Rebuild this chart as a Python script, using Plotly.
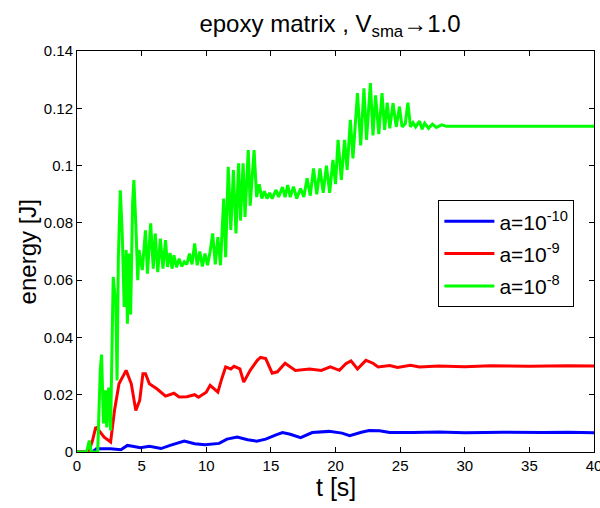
import plotly.graph_objects as go

# ---- data ----
t_blue = [0, 1.2, 1.5, 2.6, 3.4, 3.9, 4.3, 4.9, 5.6, 6.5, 7.2, 8.3, 9.1, 9.9, 11.0, 11.6,
          12.4, 13.2, 13.9, 14.6, 15.4, 15.9, 16.5, 17.3, 18.2, 19.5, 20.5, 21.1, 22.0,
          22.6, 23.4, 24.2, 26, 28, 30, 33, 36, 38, 40]
e_blue = [0, 0, 0.0011, 0.0011, 0.0008, 0.0023, 0.002, 0.0015, 0.002, 0.0012, 0.0023,
          0.0038, 0.0029, 0.0025, 0.003, 0.0045, 0.0052, 0.0043, 0.0038, 0.0045, 0.006,
          0.0068, 0.0062, 0.005, 0.0068, 0.0072, 0.0066, 0.0057, 0.0069, 0.0075, 0.0074,
          0.0068, 0.0068, 0.0070, 0.0067, 0.0069, 0.0068, 0.0069, 0.0067]

t_red = [0, 0.9, 1.2, 1.45, 1.7, 2.1, 2.6, 2.9, 3.25, 3.8, 4.2, 4.55, 4.85, 5.1, 5.3, 5.6,
         6.2, 6.85, 7.5, 7.9, 8.5, 9.1, 9.4, 10.0, 10.3, 10.9, 11.2, 11.5, 11.9, 12.15,
         12.6, 12.9, 13.4, 13.95, 14.2, 14.6, 15.1, 15.5, 16.1, 16.9, 18.0, 18.9, 19.6,
         20.3, 20.8, 21.2, 21.7, 22.35, 22.9, 23.3, 24.2, 24.8, 25.8, 26.5, 28, 30, 32,
         35, 38, 40]
e_red = [0, 0, 0.004, 0.0087, 0.0075, 0.0052, 0.0035, 0.0145, 0.0238, 0.0285, 0.0238,
         0.0145, 0.018, 0.0273, 0.0273, 0.0238, 0.022, 0.0195, 0.0205, 0.0192, 0.0193,
         0.02, 0.0191, 0.0209, 0.0233, 0.0209, 0.0256, 0.0297, 0.029, 0.0299, 0.029,
         0.0244, 0.0285, 0.032, 0.033, 0.0326, 0.0275, 0.028, 0.031, 0.0285, 0.029,
         0.0285, 0.0297, 0.0285, 0.0308, 0.0318, 0.029, 0.032, 0.031, 0.0297, 0.0302,
         0.0295, 0.0303, 0.0297, 0.03, 0.0298, 0.0301, 0.0299, 0.0301, 0.0300]

t_green = [0, 0.7, 0.8, 0.95, 1.1, 1.6, 1.8, 1.9, 2.05, 2.2, 2.3, 2.45, 2.6, 2.75, 2.8,
           3.0, 3.1, 3.2, 3.35, 3.5, 3.65, 3.8, 3.9, 4.0, 4.15, 4.3, 4.4, 4.55, 4.7,
           4.8, 5.05, 5.3, 5.45, 5.7, 5.9, 6.05, 6.25, 6.45, 6.65, 6.85, 7.0, 7.2, 7.35,
           7.5, 7.7, 7.9, 8.1, 8.3, 8.5, 8.7, 8.9, 9.1, 9.3, 9.5, 9.7, 9.9, 10.1, 10.3,
           10.5, 10.7, 10.9, 11.1, 11.35, 11.5, 11.7, 11.9, 12.1, 12.3, 12.5, 12.65,
           12.85, 13.0, 13.25, 13.4, 13.7, 13.9, 14.1, 14.3, 14.5, 14.7, 14.9, 15.1,
           15.4, 15.6, 15.9, 16.1, 16.3, 16.5, 16.75, 17.0, 17.3, 17.55, 17.8, 18.05,
           18.3, 18.55, 18.8, 19.05, 19.3, 19.55, 19.8, 20.0, 20.2, 20.45, 20.7, 20.9,
           21.15, 21.35, 21.7, 21.95, 22.2, 22.4, 22.7, 22.9, 23.1, 23.35, 23.6, 23.8,
           24.0, 24.2, 24.45, 24.7, 24.95, 25.15, 25.4, 25.6, 25.8, 26.0, 26.2, 26.5,
           26.7, 26.9, 27.2, 27.5, 27.8, 28.2, 28.6, 40]
e_green = [0, 0, 0.001, 0.004, 0.0, 0.0, 0.0285, 0.034, 0.01, 0.0215, 0.0086, 0.0225,
           0.0075, 0.0448, 0.0611, 0.0518, 0.025, 0.068, 0.0914, 0.0763, 0.0506, 0.0705,
           0.0448, 0.0693, 0.048, 0.0868, 0.0949, 0.0798, 0.06, 0.0705, 0.0635, 0.0774,
           0.0623, 0.0798, 0.064, 0.0763, 0.0628, 0.0745, 0.064, 0.074, 0.0646, 0.0695,
           0.064, 0.0687, 0.0645, 0.0675, 0.0648, 0.0664, 0.0655, 0.0693, 0.0655, 0.0728,
           0.0652, 0.07, 0.0648, 0.0693, 0.0652, 0.07, 0.0763, 0.0655, 0.075, 0.0652,
           0.0885, 0.068, 0.0996, 0.0775, 0.0984, 0.0763, 0.1008, 0.0808, 0.1008, 0.0821,
           0.1054, 0.086, 0.1054, 0.089, 0.0935, 0.0885, 0.091, 0.0885, 0.0905, 0.0885,
           0.0915, 0.089, 0.0925, 0.089, 0.0932, 0.089, 0.0926, 0.0885, 0.092, 0.089,
           0.0956, 0.0895, 0.099, 0.09, 0.099, 0.0905, 0.1, 0.0905, 0.102, 0.0935, 0.109,
           0.095, 0.109, 0.0985, 0.116, 0.1025, 0.1253, 0.107, 0.127, 0.109, 0.1288,
           0.1105, 0.1245, 0.111, 0.1253, 0.1125, 0.122, 0.113, 0.1218, 0.1135, 0.1206,
           0.1135, 0.1146, 0.122, 0.1135, 0.115, 0.1135, 0.1155, 0.1127, 0.1148, 0.113,
           0.1145, 0.1133, 0.1142, 0.1137, 0.1137]

names = ["a=10<sup>-10</sup>", "a=10<sup>-9</sup>", "a=10<sup>-8</sup>"]
colors = ["#0000FF", "#FF0000", "#00FF00"]
x_ticks = [0, 5, 10, 15, 20, 25, 30, 35, 40]
y_ticks = [0, 0.02, 0.04, 0.06, 0.08, 0.1, 0.12, 0.14]
y_tick_text = ["0", "0.02", "0.04", "0.06", "0.08", "0.1", "0.12", "0.14"]

FONT = "Liberation Sans, Arial, sans-serif"

fig = go.Figure()
for i, (tx, ey) in enumerate([(t_blue, e_blue), (t_red, e_red), (t_green, e_green)]):
    fig.add_trace(go.Scatter(x=tx, y=ey, mode="lines", name=names[i],
                             legendgroup=f"g{i}",
                             line=dict(color=colors[i], width=3)))

axis_common = dict(showline=True, linecolor="black", linewidth=1, mirror="ticks",
                   ticks="inside", ticklen=5, tickcolor="black", showgrid=False,
                   zeroline=False, ticklabeloverflow="allow", automargin=False,
                   tickfont=dict(family=FONT, size=15, color="black"))

fig.update_layout(
    width=600, height=508,
    margin=dict(l=77, r=6, t=51, b=56),
    paper_bgcolor="white", plot_bgcolor="white",
    font=dict(family=FONT, color="black"),
    title=dict(text="epoxy matrix , V<sub>sma</sub>\u21921.0", x=0.55, xanchor="center",
               y=1 - 24 / 508, yanchor="middle", yref="container",
               font=dict(family=FONT, size=24, color="black")),
    xaxis=dict(range=[0, 40], tickvals=x_ticks, **axis_common),
    yaxis=dict(range=[0, 0.14], tickvals=y_ticks, ticktext=y_tick_text, **axis_common),
    legend=dict(x=0.699, y=0.628, xanchor="left", yanchor="top",
                bgcolor="white", bordercolor="black", borderwidth=1,
                font=dict(family=FONT, size=21, color="black"),
                tracegroupgap=2, itemwidth=50),
    showlegend=True,
    annotations=[
        dict(text="t [s]", xref="paper", yref="paper", x=0.5, y=-0.0873,
             xanchor="center", yanchor="middle", showarrow=False,
             font=dict(family=FONT, size=25, color="black")),
        dict(text="energy [J]", xref="paper", yref="paper", x=-0.095, y=0.5,
             xanchor="center", yanchor="middle", showarrow=False, textangle=-90,
             font=dict(family=FONT, size=24, color="black")),
    ],
)

fig.write_html("out.html")
